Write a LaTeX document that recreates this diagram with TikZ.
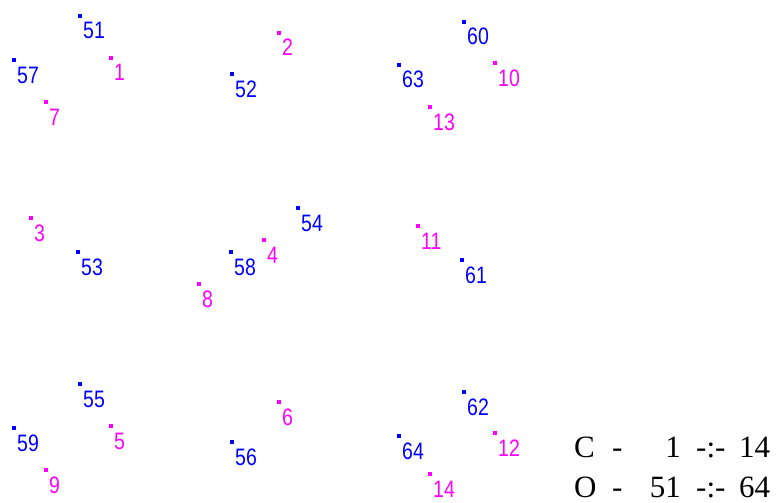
\documentclass[tikz,border=0pt]{standalone}
\usepackage{fontspec}
\usepackage{graphicx}
\setmainfont{Liberation Serif}
\newfontfamily\labfont{Liberation Sans}
\definecolor{cblue}{RGB}{0,0,255}
\definecolor{cmag}{RGB}{255,0,255}
\tikzset{
  dotsty/.style={rectangle,inner sep=0pt,minimum size=3.2pt,draw=none},
  labsty/.style={inner sep=0pt,font=\labfont\fontsize{19.5}{19.5}\selectfont},
  legsty/.style={inner sep=0pt,font=\fontsize{31}{31}\selectfont,text=black}
}
\newcommand\dotlab[4]{%
  \node[dotsty,fill=#4] (d#1) at (#2,#3) {};
  \node[labsty,text=#4,anchor=base west] (l#1) at ([xshift=3pt,yshift=-23pt]d#1.center) {\scalebox{1}[1.22]{#1}};
}
\begin{document}
\begin{tikzpicture}[x=1pt,y=-1pt]
\useasboundingbox (0,0) rectangle (779,503);
\dotlab{51}{80}{16}{cblue}
\dotlab{57}{14}{60}{cblue}
\dotlab{1}{111}{58}{cmag}
\dotlab{7}{46}{102}{cmag}
\dotlab{52}{232}{74}{cblue}
\dotlab{2}{279}{33}{cmag}
\dotlab{60}{464}{22}{cblue}
\dotlab{63}{399}{65}{cblue}
\dotlab{10}{495}{63}{cmag}
\dotlab{13}{430}{107}{cmag}
\dotlab{3}{31}{218}{cmag}
\dotlab{53}{78}{252}{cblue}
\dotlab{8}{199}{284}{cmag}
\dotlab{58}{231}{252}{cblue}
\dotlab{54}{298}{208}{cblue}
\dotlab{4}{264}{240}{cmag}
\dotlab{11}{418}{226}{cmag}
\dotlab{61}{462}{260}{cblue}
\dotlab{55}{80}{384}{cblue}
\dotlab{59}{14}{428}{cblue}
\dotlab{5}{111}{426}{cmag}
\dotlab{9}{46}{470}{cmag}
\dotlab{56}{232}{442}{cblue}
\dotlab{6}{279}{402}{cmag}
\dotlab{62}{464}{392}{cblue}
\dotlab{64}{399}{436}{cblue}
\dotlab{12}{495}{433}{cmag}
\dotlab{14}{430}{474}{cmag}
% legend
\node[legsty,anchor=base west] (c1) at (574,457) {C};
\node[legsty,anchor=base west] (c2) at (612,457) {-};
\node[legsty,anchor=base east] (c3) at (681,457) {1};
\node[legsty,anchor=base west] (c4) at (696,457) {-:-};
\node[legsty,anchor=base west] (c5) at (739,457) {14};
\node[legsty,anchor=base west] (o1) at (574,497) {O};
\node[legsty,anchor=base west] (o2) at (612,497) {-};
\node[legsty,anchor=base east] (o3) at (681,497) {51};
\node[legsty,anchor=base west] (o4) at (696,497) {-:-};
\node[legsty,anchor=base west] (o5) at (739,497) {64};
\end{tikzpicture}
\end{document}
